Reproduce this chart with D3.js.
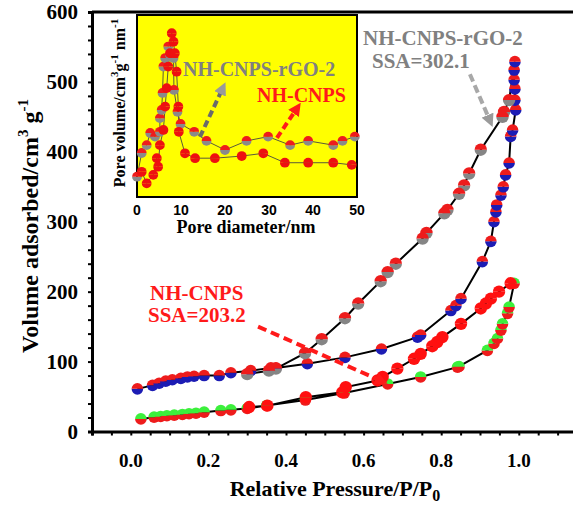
<!DOCTYPE html>
<html>
<head>
<meta charset="utf-8">
<script src="https://cdn.jsdelivr.net/npm/d3@7"></script>
<style>
  body { margin: 0; background: #fff; }
  text { font-family: "Liberation Serif", "Times New Roman", serif; font-weight: bold; }
</style>
</head>
<body>
<div id="chart"></div>
<script>
const width = 573,
  height = 505;

// N2 isotherms, [P/P0, volume adsorbed]
const rgoAds = [[0.017, 61], [0.056, 66], [0.073, 69], [0.09, 72], [0.107, 74], [0.129, 76], [0.146, 78],
  [0.163, 79], [0.189, 80], [0.228, 80], [0.258, 84], [0.309, 87], [0.361, 91], [0.374, 91], [0.455, 97],
  [0.552, 106], [0.646, 118], [0.739, 135], [0.747, 138], [0.825, 173], [0.838, 180], [0.851, 190],
  [0.906, 243], [0.928, 272], [0.936, 300], [0.941, 314], [0.943, 324], [0.954, 338], [0.96, 350],
  [0.966, 367], [0.975, 384], [0.979, 422], [0.984, 431], [0.992, 460], [0.99, 474], [0.99, 490],
  [0.988, 503], [0.988, 517], [0.99, 529]];
const rgoDes = [[0.975, 474], [0.962, 457], [0.958, 450], [0.902, 403], [0.872, 369], [0.859, 352],
  [0.846, 340], [0.816, 317], [0.808, 312], [0.762, 284], [0.752, 276], [0.683, 240], [0.662, 228],
  [0.644, 215], [0.586, 183], [0.552, 162], [0.492, 132], [0.449, 112], [0.374, 90], [0.356, 87], [0.3, 82]];
const cnpsAds = [[0.026, 18], [0.06, 20.5], [0.077, 21.5], [0.093, 22.5], [0.112, 23.4], [0.133, 24.4],
  [0.15, 25.4], [0.168, 26.2], [0.189, 27.7], [0.232, 30], [0.258, 31], [0.3, 33], [0.35, 37], [0.45, 45],
  [0.55, 55], [0.662, 68], [0.747, 78], [0.842, 92], [0.846, 93], [0.919, 116], [0.936, 126], [0.945, 133],
  [0.954, 145], [0.958, 154], [0.971, 169], [0.975, 178], [0.988, 212]];
const cnpsDes = [[0.979, 212], [0.949, 200], [0.928, 190], [0.915, 183], [0.902, 176], [0.851, 154],
  [0.803, 135], [0.79, 128], [0.777, 122], [0.747, 111], [0.73, 104], [0.687, 90], [0.649, 78], [0.636, 73],
  [0.554, 63.5], [0.545, 56], [0.451, 49], [0.352, 37], [0.305, 35]];

// pore size distribution (inset), [diameter nm, pore volume]
const poreRgo = [[0, 0.0067], [1.07, 0.0145], [2.2, 0.0171], [3.0, 0.0211], [4.1, 0.0199], [5.2, 0.0215],
  [5.2, 0.026], [5.6, 0.0287], [5.8, 0.0343], [6.0, 0.043], [6.4, 0.0458], [7.1, 0.0496], [7.5, 0.0468],
  [8.3, 0.0458], [8.4, 0.0353], [9.2, 0.0281], [9.9, 0.0241], [13, 0.0215], [15.8, 0.0185], [20, 0.0155],
  [24.9, 0.0185], [29.8, 0.0199], [34.8, 0.0171], [38.9, 0.0185], [44.6, 0.0171], [46.7, 0.0185], [49.5, 0.0199]];
const poreCnps = [[1.07, 0.0083], [2.2, 0.0045], [3.7, 0.0073], [4.5, 0.0128], [4.8, 0.01], [5.2, 0.0171],
  [6.0, 0.0221], [6.4, 0.0298], [6.75, 0.0359], [7.1, 0.043], [7.5, 0.0474], [7.9, 0.054], [8.3, 0.0512],
  [8.6, 0.0474], [9.0, 0.0413], [9.4, 0.0298], [9.5, 0.0215], [10.9, 0.0144], [13.2, 0.0128], [17.7, 0.0128],
  [23.8, 0.0135], [28.7, 0.0144], [33.6, 0.0113], [38.9, 0.0113], [44.6, 0.0113], [48.8, 0.0106]];

const xTickLabels = [0, 0.2, 0.4, 0.6, 0.8, 1.0];
const yTickLabels = [0, 100, 200, 300, 400, 500, 600];
const insetTickLabels = [0, 10, 20, 30, 40, 50];

const svg = d3.select('#chart').append('svg')
  .attr('width', width)
  .attr('height', height);

const defs = svg.append('defs');
[['headRed', '#ff1a1a'], ['headGray', '#9a9a9a']].forEach(([id, c]) => {
  defs.append('marker')
    .attr('id', id)
    .attr('viewBox', '0 0 10 10')
    .attr('refX', 5).attr('refY', 5)
    .attr('markerWidth', 3.2).attr('markerHeight', 3.2)
    .attr('orient', 'auto')
    .append('path')
    .attr('d', 'M0,0 L10,5 L0,10 Z')
    .attr('fill', c);
});

const x = d3.scaleLinear().domain([-0.1, 1.15]).range([92, 577]);
const y = d3.scaleLinear().domain([0, 600]).range([431.5, 12]);

// axes
const xAxis = svg.append('g')
  .attr('transform', `translate(0,${y(0)})`)
  .call(d3.axisBottom(x).tickValues(d3.range(-0.1, 1.16, 0.05)).tickSize(4).tickFormat(''));
xAxis.select('.domain').attr('stroke-width', 3);
xAxis.selectAll('.tick line').attr('stroke-width', 2);

const yAxis = svg.append('g')
  .attr('transform', `translate(${x(-0.1)},0)`)
  .call(d3.axisLeft(y).tickValues(d3.range(0, 601, 20)).tickSize(4).tickFormat(''));
yAxis.select('.domain').attr('stroke-width', 3);
yAxis.selectAll('.tick line').attr('stroke-width', 2);

svg.append('line')
  .attr('x1', x(-0.1)).attr('x2', width)
  .attr('y1', y(600)).attr('y2', y(600))
  .attr('stroke', '#000').attr('stroke-width', 3);

svg.selectAll('.xlab').data(xTickLabels).enter().append('text')
  .attr('x', d => x(d)).attr('y', 467)
  .attr('text-anchor', 'middle').attr('font-size', 19)
  .text(d => d.toFixed(1));

svg.selectAll('.ylab').data(yTickLabels).enter().append('text')
  .attr('x', 78).attr('y', d => y(d) + 7)
  .attr('text-anchor', 'end').attr('font-size', 21)
  .text(d => d);

svg.append('text')
  .attr('x', 335).attr('y', 496)
  .attr('text-anchor', 'middle').attr('font-size', 22)
  .html('Relative Pressure/P/P<tspan font-size="16" dy="5">0</tspan>');

svg.append('text')
  .attr('transform', 'translate(38,226) rotate(-90)')
  .attr('text-anchor', 'middle').attr('font-size', 24)
  .html('Volume adsorbed/cm<tspan font-size="15" dy="-10">3</tspan><tspan dy="10"> g</tspan><tspan font-size="15" dy="-10">-1</tspan>');

// isotherm lines
const line = d3.line().x(d => x(d[0])).y(d => y(d[1]));
svg.append('path').datum(rgoAds.concat(rgoDes))
  .attr('d', line).attr('fill', 'none').attr('stroke', '#000').attr('stroke-width', 2);
svg.append('path').datum(cnpsAds.concat(cnpsDes))
  .attr('d', line).attr('fill', 'none').attr('stroke', '#000').attr('stroke-width', 2);

// half-coloured circle markers
function halfDots(g, data, sx, sy, r, top, bottom) {
  const upper = d3.arc().innerRadius(0).outerRadius(r).startAngle(-Math.PI / 2).endAngle(Math.PI / 2);
  const lower = d3.arc().innerRadius(0).outerRadius(r).startAngle(Math.PI / 2).endAngle(Math.PI * 1.5);
  const dots = g.append('g').selectAll('g').data(data).enter().append('g')
    .attr('transform', d => `translate(${sx(d[0])},${sy(d[1])})`);
  dots.append('path').attr('d', lower()).attr('fill', bottom);
  dots.append('path').attr('d', upper()).attr('fill', top);
}

halfDots(svg, rgoAds, x, y, 5.8, '#ee1c1c', '#1c1cb4');
halfDots(svg, rgoDes, x, y, 6.2, '#ee1c1c', '#858585');
halfDots(svg, cnpsAds, x, y, 5.8, '#3cf03c', '#ee1c1c');
halfDots(svg, cnpsDes, x, y, 6.2, '#ff1010', '#ff1010');

// annotations
svg.append('text').attr('x', 363).attr('y', 45).attr('font-size', 21).attr('fill', '#808080').text('NH-CNPS-rGO-2');
svg.append('text').attr('x', 372).attr('y', 68).attr('font-size', 21).attr('fill', '#808080').text('SSA=302.1');
svg.append('text').attr('x', 150).attr('y', 300).attr('font-size', 21).attr('fill', '#ff1a1a').text('NH-CNPS');
svg.append('text').attr('x', 148).attr('y', 322).attr('font-size', 21).attr('fill', '#ff1a1a').text('SSA=203.2');

svg.append('line')
  .attr('x1', x(0.874)).attr('y1', y(511)).attr('x2', x(0.926)).attr('y2', y(444))
  .attr('stroke', '#a8a8a8').attr('stroke-width', 4).attr('stroke-dasharray', '8,4')
  .attr('marker-end', 'url(#headGray)');
svg.append('line')
  .attr('x1', x(0.328)).attr('y1', y(150)).attr('x2', x(0.647)).attr('y2', y(72))
  .attr('stroke', '#ff1a1a').attr('stroke-width', 4).attr('stroke-dasharray', '9,5')
  .attr('marker-end', 'url(#headRed)');

// inset: pore size distribution
const ix = d3.scaleLinear().domain([0, 50]).range([137, 357]);
const iy = d3.scaleLinear().domain([0, 0.06]).range([197, 15]);

svg.append('rect')
  .attr('x', ix(0)).attr('y', iy(0.06))
  .attr('width', ix(50) - ix(0)).attr('height', iy(0) - iy(0.06))
  .attr('fill', '#ffff00').attr('stroke', '#000').attr('stroke-width', 2);

const iline = d3.line().x(d => ix(d[0])).y(d => iy(d[1]));
svg.append('path').datum(poreRgo).attr('d', iline)
  .attr('fill', 'none').attr('stroke', '#5a5a3a').attr('stroke-width', 1);
svg.append('path').datum(poreCnps).attr('d', iline)
  .attr('fill', 'none').attr('stroke', '#5a5a3a').attr('stroke-width', 1);
halfDots(svg, poreRgo, ix, iy, 4.9, '#ee1c1c', '#8a8a8a');
halfDots(svg, poreCnps, ix, iy, 4.9, '#ee1010', '#ee1010');

svg.selectAll('.ilab').data(insetTickLabels).enter().append('text')
  .attr('x', d => ix(d)).attr('y', 215)
  .attr('text-anchor', 'middle').attr('font-size', 14)
  .style('font-family', '"Liberation Sans", Arial, sans-serif')
  .text(d => d);

svg.append('text')
  .attr('x', 246).attr('y', 233)
  .attr('text-anchor', 'middle').attr('font-size', 18)
  .text('Pore diameter/nm');

svg.append('text')
  .attr('transform', 'translate(125,103) rotate(-90)')
  .attr('text-anchor', 'middle').attr('font-size', 16)
  .html('Pore volume/cm<tspan font-size="11" dy="-7">3</tspan><tspan dy="7">g</tspan><tspan font-size="11" dy="-7">-1</tspan><tspan dy="7"> nm</tspan><tspan font-size="11" dy="-7">-1</tspan>');

svg.append('text').attr('x', 183).attr('y', 76).attr('font-size', 20).attr('fill', '#808080').text('NH-CNPS-rGO-2');
svg.append('text').attr('x', 257).attr('y', 102).attr('font-size', 20).attr('fill', '#ff1a1a').text('NH-CNPS');

svg.append('line')
  .attr('x1', ix(14.3)).attr('y1', iy(0.0198)).attr('x2', ix(19.5)).attr('y2', iy(0.0359))
  .attr('stroke', '#6a6a6a').attr('stroke-width', 4).attr('stroke-dasharray', '7,4')
  .attr('marker-end', 'url(#headGray)');
svg.append('line')
  .attr('x1', ix(31.8)).attr('y1', iy(0.0195)).attr('x2', ix(36.4)).attr('y2', iy(0.0293))
  .attr('stroke', '#ff1a1a').attr('stroke-width', 4).attr('stroke-dasharray', '7,4')
  .attr('marker-end', 'url(#headRed)');
</script>
</body>
</html>
